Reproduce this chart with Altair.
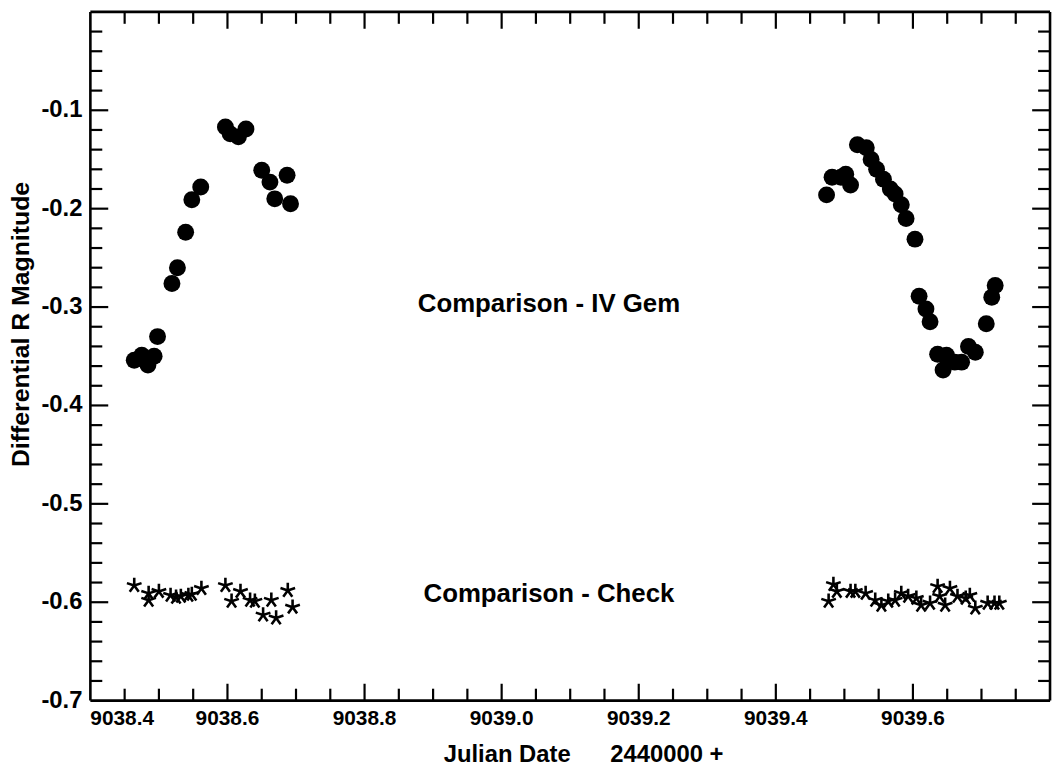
import altair as alt
import pandas as pd

# Comparison - IV Gem (filled circles)
gem_jd = [9038.464, 9038.475, 9038.484, 9038.493, 9038.498, 9038.519, 9038.527, 9038.539,
          9038.548, 9038.561, 9038.597, 9038.604, 9038.616, 9038.627, 9038.650, 9038.662,
          9038.669, 9038.687, 9038.692,
          9039.474, 9039.482, 9039.495, 9039.502, 9039.509, 9039.519, 9039.532, 9039.539,
          9039.547, 9039.557, 9039.567, 9039.574, 9039.583, 9039.590, 9039.603, 9039.609,
          9039.619, 9039.625, 9039.636, 9039.644, 9039.649, 9039.661, 9039.671, 9039.681,
          9039.691, 9039.707, 9039.715, 9039.720]
gem_mag = [-0.354, -0.349, -0.359, -0.350, -0.330, -0.276, -0.260, -0.224,
           -0.191, -0.178, -0.117, -0.124, -0.127, -0.119, -0.161, -0.173,
           -0.190, -0.166, -0.195,
           -0.186, -0.168, -0.168, -0.165, -0.176, -0.135, -0.138, -0.150,
           -0.160, -0.170, -0.180, -0.185, -0.196, -0.210, -0.231, -0.289,
           -0.302, -0.315, -0.348, -0.364, -0.349, -0.356, -0.356, -0.340,
           -0.346, -0.317, -0.290, -0.278]

# Comparison - Check (stars)
chk_jd = [9038.464, 9038.485, 9038.485, 9038.500, 9038.517, 9038.525, 9038.532, 9038.543,
          9038.548, 9038.562, 9038.597, 9038.606, 9038.619, 9038.633, 9038.640, 9038.652,
          9038.664, 9038.671, 9038.688, 9038.695,
          9039.484, 9039.477, 9039.489, 9039.509, 9039.516, 9039.531, 9039.545, 9039.554,
          9039.564, 9039.574, 9039.583, 9039.593, 9039.605, 9039.612, 9039.625, 9039.636,
          9039.639, 9039.647, 9039.654, 9039.665, 9039.677, 9039.683, 9039.691, 9039.709,
          9039.719, 9039.726]
chk_mag = [-0.583, -0.591, -0.598, -0.589, -0.593, -0.595, -0.594, -0.593,
           -0.592, -0.586, -0.583, -0.599, -0.589, -0.598, -0.599, -0.613,
           -0.598, -0.616, -0.588, -0.605,
           -0.582, -0.599, -0.589, -0.589, -0.589, -0.591, -0.598, -0.603,
           -0.599, -0.598, -0.591, -0.594, -0.596, -0.603, -0.601, -0.584,
           -0.594, -0.603, -0.586, -0.594, -0.596, -0.593, -0.606, -0.601,
           -0.601, -0.601]

notes = ["Comparison - IV Gem", "Comparison - Check"]
note_jd = [9039.069, 9039.069]
note_mag = [-0.297, -0.592]

# axis labels (tick values and their texts)
x_first_label = [9038.4]
x_first_text = ["9038.4"]
x_labels = [9038.6, 9038.8, 9039.0, 9039.2, 9039.4, 9039.6]
x_label_text = ["9038.6", "9038.8", "9039.0", "9039.2", "9039.4", "9039.6"]
y_labels = [-0.1, -0.2, -0.3, -0.4, -0.5, -0.6, -0.7]
y_label_text = ["-0.1", "-0.2", "-0.3", "-0.4", "-0.5", "-0.6", "-0.7"]
x_title = ["Julian Date\u00a0\u00a0\u00a0\u00a0\u00a0\u00a02440000 +"]
y_title = ["Differential R Magnitude"]

# tick positions (inward ticks on all four sides)
x_major = [9038.6, 9038.8, 9039.0, 9039.2, 9039.4, 9039.6]
x_minor = [9038.45, 9038.5, 9038.55, 9038.65, 9038.7, 9038.75, 9038.85, 9038.9, 9038.95,
           9039.05, 9039.1, 9039.15, 9039.25, 9039.3, 9039.35, 9039.45, 9039.5, 9039.55,
           9039.65, 9039.7, 9039.75]
y_major = [-0.1, -0.2, -0.3, -0.4, -0.5, -0.6]
y_minor = [-0.02, -0.04, -0.06, -0.08, -0.12, -0.14, -0.16, -0.18, -0.22, -0.24, -0.26,
           -0.28, -0.32, -0.34, -0.36, -0.38, -0.42, -0.44, -0.46, -0.48, -0.52, -0.54,
           -0.56, -0.58, -0.62, -0.64, -0.66, -0.68]

W, H = 967, 694
FONT = "Liberation Sans"
xs = alt.Scale(domain=[9038.4, 9039.8], nice=False, zero=False)
ys = alt.Scale(domain=[-0.7, 0.0], nice=False, zero=False)

STAR = ("M0,0L0,-1M0,0L0.951,-0.309M0,0L0.588,0.809M0,0L-0.588,0.809"
        "M0,0L-0.951,-0.309")

gem = pd.DataFrame({"jd": gem_jd, "mag": gem_mag})
chk = pd.DataFrame({"jd": chk_jd, "mag": chk_mag})
nt = pd.DataFrame({"jd": note_jd, "mag": note_mag, "label": notes})


def X(field):
    return alt.X(field, type="quantitative", scale=xs, axis=None)


def Y(field):
    return alt.Y(field, type="quantitative", scale=ys, axis=None)


def yticks(vals, x0, x1):
    return alt.Chart(pd.DataFrame({"v": vals})).mark_rule(color="black", strokeWidth=2.2).encode(
        y=Y("v"), x=alt.value(x0), x2=alt.value(x1))


def xticks(vals, y0, y1):
    return alt.Chart(pd.DataFrame({"v": vals})).mark_rule(color="black", strokeWidth=2.2).encode(
        x=X("v"), y=alt.value(y0), y2=alt.value(y1))


ticks = [
    yticks(y_major, 0, 18), yticks(y_minor, 0, 12),
    yticks(y_major, W - 18, W), yticks(y_minor, W - 12, W),
    xticks(x_major, H - 17, H), xticks(x_minor, H - 12, H),
    xticks(x_major, 0, 17), xticks(x_minor, 0, 12),
]

# plot frame
frame = [
    alt.Chart().mark_rule(color="black", strokeWidth=2.6).encode(
        x=alt.value(0), x2=alt.value(W), y=alt.value(0)),
    alt.Chart().mark_rule(color="black", strokeWidth=2.6).encode(
        x=alt.value(0), x2=alt.value(W), y=alt.value(H)),
    alt.Chart().mark_rule(color="black", strokeWidth=2.6).encode(
        y=alt.value(0), y2=alt.value(H), x=alt.value(0)),
    alt.Chart().mark_rule(color="black", strokeWidth=2.6).encode(
        y=alt.value(0), y2=alt.value(H), x=alt.value(W)),
]

ylab = alt.Chart(pd.DataFrame({"v": y_labels, "t": y_label_text})).mark_text(
    font=FONT, fontSize=24, fontWeight="bold", color="black", align="right",
    baseline="middle").encode(y=Y("v"), x=alt.value(-8), text="t:N")

xlab = alt.Chart(pd.DataFrame({"v": x_labels, "t": x_label_text})).mark_text(
    font=FONT, fontSize=21, fontWeight="bold", color="black", align="center",
    baseline="top").encode(x=X("v"), y=alt.value(H + 8), text="t:N")

xlab0 = alt.Chart(pd.DataFrame({"v": x_first_label, "t": x_first_text})).mark_text(
    font=FONT, fontSize=21, fontWeight="bold", color="black", align="left",
    baseline="top").encode(x=X("v"), y=alt.value(H + 8), text="t:N")

xtitle = alt.Chart(pd.DataFrame({"t": x_title})).mark_text(
    font=FONT, fontSize=24, fontWeight="bold", color="black", align="center",
    baseline="middle").encode(x=alt.value(497), y=alt.value(H + 55), text="t:N")

ytitle = alt.Chart(pd.DataFrame({"t": y_title})).mark_text(
    font=FONT, fontSize=25, fontWeight="bold", color="black", align="center",
    baseline="middle", angle=270).encode(x=alt.value(-70), y=alt.value(315), text="t:N")

gem_layer = alt.Chart(gem).mark_point(shape="circle", filled=True, color="black",
                                      size=290, opacity=1).encode(x=X("jd"), y=Y("mag"))

chk_layer = alt.Chart(chk).mark_point(shape=STAR, filled=False, color="black",
                                      size=240, strokeWidth=2.6, opacity=1).encode(
    x=X("jd"), y=Y("mag"))

txt = alt.Chart(nt).mark_text(font=FONT, fontSize=26, fontWeight="bold", color="black",
                              align="center", baseline="middle").encode(
    x=X("jd"), y=Y("mag"), text="label:N")

chart = alt.layer(*ticks, *frame, gem_layer, chk_layer, txt, ylab, xlab, xlab0,
                  xtitle, ytitle).properties(
    width=W, height=H,
    background="white",
    padding={"left": 83, "top": 1, "right": 3, "bottom": 68},
    autosize=alt.AutoSizeParams(type="none"),
)

chart.save("out.html", embed_options={"renderer": "svg", "actions": False})
